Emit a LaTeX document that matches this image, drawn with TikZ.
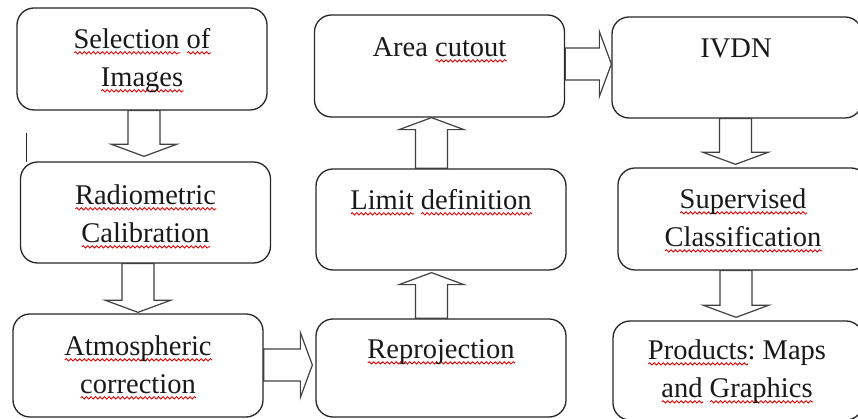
\documentclass[tikz,border=0pt]{standalone}
\usepackage{fontspec}
\setmainfont{Liberation Serif}
\usetikzlibrary{calc,decorations.pathmorphing}
\frenchspacing
\newsavebox\wbox
\newcommand\rw[1]{\sbox\wbox{#1}\rlap{\pgfinterruptpicture\tikz[baseline=0pt,x=1pt,y=1pt]\draw[red!90!black,line width=0.85pt,decorate,decoration={snake,amplitude=1.2pt,segment length=4.5pt}] (0,-4.5) -- (\the\wd\wbox,-4.5);\endpgfinterruptpicture}\usebox\wbox}
\newcommand\twol[2]{\begin{tabular}[t]{@{}c@{}}#1\\#2\end{tabular}}
% down block arrow: from node, to node, centre x, gap above target
\newcommand\dnblk[4]{\draw[blk] let \p1=(#1.south), \p2=(#2.north) in
  (#3-16,\y1) -- (#3-16,\y2+#4pt+12pt) -- (#3-32.5,\y2+#4pt+12pt) -- (#3,\y2+#4pt)
  -- (#3+32.5,\y2+#4pt+12pt) -- (#3+16,\y2+#4pt+12pt) -- (#3+16,\y1) -- cycle;}
% up block arrow: from node, to node, centre x, gap below target
\newcommand\upblk[4]{\draw[blk] let \p1=(#1.north), \p2=(#2.south) in
  (#3-16,\y1) -- (#3-16,\y2-#4pt-12pt) -- (#3-32.5,\y2-#4pt-12pt) -- (#3,\y2-#4pt)
  -- (#3+32.5,\y2-#4pt-12pt) -- (#3+16,\y2-#4pt-12pt) -- (#3+16,\y1) -- cycle;}
% right block arrow: from node, to node, centre y, gap before target
\newcommand\rtblk[4]{\draw[blk] let \p1=(#1.east), \p2=(#2.west) in
  (\x1,#3+16) -- (\x2-#4pt-12pt,#3+16) -- (\x2-#4pt-12pt,#3+32.5) -- (\x2-#4pt,#3)
  -- (\x2-#4pt-12pt,#3-32.5) -- (\x2-#4pt-12pt,#3-16) -- (\x1,#3-16) -- cycle;}
\begin{document}
\begin{tikzpicture}[x=1pt,y=1pt,
  box/.style={draw=black!85, line width=1.3pt, rounded corners=17pt, fill=white,
              minimum width=250pt, inner sep=0pt},
  lbl/.style={font=\fontsize{28.5}{38}\selectfont, text=black!90, inner sep=0pt, anchor=base},
  blk/.style={draw=black!75, line width=1.2pt, fill=white, line join=miter}]
\useasboundingbox (0,0) rectangle (858,419);
\clip (0,0) rectangle (858,419);

% boxes
\node[box, minimum height=102pt] (b1) at (142,360) {};
\node[box, minimum height=101pt] (b2) at (145.5,206.5) {};
\node[box, minimum height=103pt] (b3) at (138,53.5) {};
\node[box, minimum height=98pt]  (b4) at (441,51) {};
\node[box, minimum height=101pt] (b5) at (441,199.5) {};
\node[box, minimum height=102pt] (b6) at (439.5,353) {};
\node[box, minimum height=101pt] (b7) at (737,351.5) {};
\node[box, minimum height=102pt] (b8) at (743,200) {};
\node[box, minimum height=99pt]  (b9) at (738,48.5) {};

% labels
\node[lbl] (t1) at ($(b1.north)+(0,-41)$) {\twol{\rw{Selection} \rw{of}}{\rw{Images}}};
\node[lbl] (t2) at ($(b2.north)+(0,-43)$) {\twol{\rw{Radiometric}}{\rw{Calibration}}};
\node[lbl] (t3) at ($(b3.north)+(0,-42)$) {\twol{\rw{Atmospheric}}{\rw{correction}}};
\node[lbl] (t4) at ($(b4.north)+(0,-40)$) {\rw{Reprojection}};
\node[lbl] (t5) at ($(b5.north)+(0,-41)$) {\rw{Limit} \rw{definition}};
\node[lbl] (t6) at ($(b6.north)+(0,-42)$) {Area \rw{cutout}};
\node[lbl] (t7) at ($(b7.north)+(-1,-41)$) {IVDN};
\node[lbl] (t8) at ($(b8.north)+(0,-41)$) {\twol{\rw{Supervised}}{\rw{Classification}}};
\node[lbl] (t9) at ($(b9.north)+(-1,-39)$) {\twol{\rw{Products}: Maps}{\rw{and} \rw{Graphics}}};

% block arrows
\dnblk{b1}{b2}{144}{5}
\dnblk{b2}{b3}{138}{1}
\rtblk{b3}{b4}{54}{3}
\upblk{b4}{b5}{431.5}{2}
\upblk{b5}{b6}{431.5}{0}
\rtblk{b6}{b7}{355}{0}
\dnblk{b7}{b8}{735.5}{3}
\dnblk{b8}{b9}{736}{3}

% stray mark at left
\coordinate (s1) at (26,257);
\coordinate (s2) at (26,286);
\draw[line width=1pt, black!85] (s1) -- (s2);
\end{tikzpicture}
\end{document}
